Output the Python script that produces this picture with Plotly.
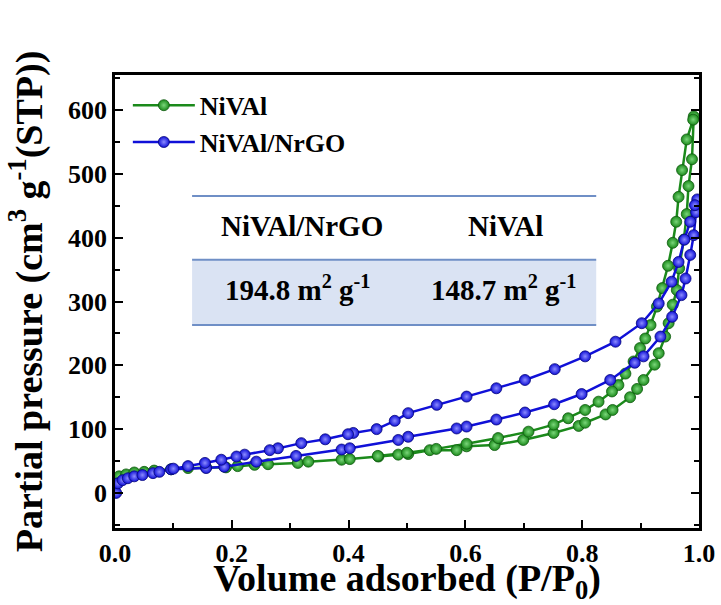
import plotly.graph_objects as go

# ---------------- data ----------------
# NiVAl adsorption branch (P/P0 ascending)
nival_ads_x = [0.002, 0.007, 0.019, 0.033, 0.05, 0.067, 0.096, 0.125, 0.156, 0.19, 0.21, 0.239, 0.262,
               0.313, 0.331, 0.388, 0.402, 0.451, 0.485, 0.502, 0.539, 0.585, 0.602, 0.65, 0.699, 0.751,
               0.794, 0.805, 0.84, 0.852, 0.882, 0.894, 0.905, 0.924, 0.931, 0.942, 0.948, 0.955, 0.962,
               0.966, 0.974, 0.979, 0.982, 0.988, 0.991]
nival_ads_y = [20, 26, 29, 32, 33, 35, 37, 39, 40, 40, 42, 44, 45,
               47, 49, 52, 53, 57, 60, 61, 67, 67, 73, 75, 83, 94,
               105, 110, 123, 130, 150, 163, 177, 201, 219, 245, 266, 295, 318,
               352, 397, 437, 481, 523, 590]
# NiVAl desorption branch (P/P0 descending)
nival_des_x = [0.99, 0.979, 0.971, 0.965, 0.961, 0.955, 0.947, 0.937, 0.928, 0.917, 0.908, 0.899, 0.888,
               0.874, 0.862, 0.851, 0.828, 0.805, 0.776, 0.751, 0.708, 0.656, 0.602, 0.55, 0.5, 0.45]
nival_des_y = [585, 554, 506, 464, 425, 392, 356, 321, 292, 263, 242, 227, 206,
               187, 169, 159, 143, 130, 117, 107, 96, 86, 77, 69, 63, 58]

# NiVAl/NrGO adsorption branch
nrgo_ads_x = [0.002, 0.005, 0.013, 0.022, 0.033, 0.047, 0.065, 0.076, 0.096, 0.156, 0.187, 0.242, 0.31,
              0.388, 0.402, 0.485, 0.502, 0.585, 0.602, 0.653, 0.702, 0.752, 0.799, 0.848, 0.89, 0.905,
              0.934, 0.954, 0.97, 0.977, 0.985, 0.991, 0.995, 0.997]
nrgo_ads_y = [0, 15, 20, 23, 26, 28, 31, 33, 37, 39, 41, 49, 58,
              68, 70, 83, 88, 101, 104, 115, 126, 139, 155, 177, 204, 214,
              245, 276, 310, 336, 373, 404, 440, 460]
# NiVAl/NrGO desorption branch
nrgo_des_x = [0.993, 0.985, 0.975, 0.965, 0.953, 0.931, 0.902, 0.857, 0.805, 0.753, 0.702, 0.653, 0.602,
              0.551, 0.502, 0.479, 0.448, 0.408, 0.399, 0.36, 0.319, 0.279, 0.265, 0.222, 0.208, 0.182,
              0.154, 0.125, 0.1]
nrgo_des_y = [451, 425, 397, 362, 331, 297, 266, 237, 214, 194, 177, 164, 151,
              138, 125, 113, 100, 94, 92, 84, 78, 70, 67, 60, 57, 52,
              47, 42, 38]

table_header = ["NiVAl/NrGO", "NiVAl"]
table_values = ["194.8 m<sup>2</sup> g<sup>-1</sup>", "148.7 m<sup>2</sup> g<sup>-1</sup>"]

x_ticks = [0.0, 0.2, 0.4, 0.6, 0.8, 1.0]
y_ticks = [0, 100, 200, 300, 400, 500, 600]

# ---------------- figure ----------------
FONT = "Liberation Serif"
GREEN = "#1b8a1b"
BLUE = "#1010d8"

fig = go.Figure()

def add_series(xa, ya, xd, yd, name, color, light, edge):
    fig.add_trace(go.Scatter(
        x=xa + xd, y=ya + yd, name=name, mode="lines+markers",
        line=dict(color=color, width=2.5),
        marker=dict(symbol="circle", size=11, color=color,
                    gradient=dict(type="radial", color=light),
                    line=dict(color=edge, width=0.8)),
    ))

add_series(nival_ads_x, nival_ads_y, nival_des_x, nival_des_y, "<b>NiVAl</b>", GREEN, "#7ad67a", "#0f5a0f")
add_series(nrgo_ads_x, nrgo_ads_y, nrgo_des_x, nrgo_des_y, "<b>NiVAl/NrGO</b>", BLUE, "#8c8cff", "#06067a")

# table drawn in paper coordinates
tx0, tx1 = 0.132, 0.824
y_top, y_mid, y_bot = 0.733, 0.592, 0.448
fig.add_shape(type="rect", xref="paper", yref="paper", x0=tx0, x1=tx1, y0=y_bot, y1=y_mid,
              fillcolor="#dae3f3", line=dict(width=0), layer="below")
for yy in (y_top, y_mid, y_bot):
    fig.add_shape(type="line", xref="paper", yref="paper", x0=tx0, x1=tx1, y0=yy, y1=yy,
                  line=dict(color="#6f8fc6", width=2))

col_x = [0.320, 0.668]
for cx, h in zip(col_x, table_header):
    fig.add_annotation(xref="paper", yref="paper", x=cx, y=0.667, text="<b>%s</b>" % h,
                       xanchor="center", yanchor="middle",
                       showarrow=False, font=dict(family=FONT, size=29, color="black"))
val_x = [0.3125, 0.666]
for cx, v in zip(val_x, table_values):
    fig.add_annotation(xref="paper", yref="paper", x=cx, y=0.530, text="<b>%s</b>" % v,
                       xanchor="center", yanchor="middle",
                       showarrow=False, font=dict(family=FONT, size=29, color="black"))

axis_common = dict(
    showline=True, linecolor="black", linewidth=2.5, ticks="inside", tickwidth=2,
    ticklen=8, tickcolor="black", showgrid=False, zeroline=False, automargin=False,
    tickfont=dict(family=FONT, size=26, color="black"),
)

fig.update_xaxes(
    range=[0, 1], tickvals=x_ticks, ticktext=["<b>%.1f</b>" % v for v in x_ticks],
    mirror=True,
    minor=dict(ticks="inside", dtick=0.1, ticklen=5, tickwidth=2, tickcolor="black"),
    title=dict(text="<b>Volume adsorbed (P/P<sub>0</sub>)</b>",
               font=dict(family=FONT, size=38, color="black"), standoff=6),
    **axis_common,
)
fig.update_yaxes(
    range=[-55, 655], tickvals=y_ticks, ticktext=["<b>%d</b>" % v for v in y_ticks],
    mirror="ticks",
    minor=dict(ticks="inside", dtick=50, ticklen=5, tickwidth=2, tickcolor="black"),
    title=dict(text="<b>Partial pressure (cm<sup>3</sup> g<sup>-1</sup>(STP))</b>",
               font=dict(family=FONT, size=38, color="black"), standoff=14),
    **axis_common,
)

fig.update_layout(
    width=721, height=605,
    margin=dict(l=115, r=22, t=75, b=77),
    paper_bgcolor="white", plot_bgcolor="white",
    showlegend=True,
    legend=dict(x=0.022, y=0.985, xanchor="left", yanchor="top",
                font=dict(family=FONT, size=26, color="black"),
                bgcolor="rgba(0,0,0,0)", itemwidth=62, tracegroupgap=0),
)

fig.write_html("out.html")
